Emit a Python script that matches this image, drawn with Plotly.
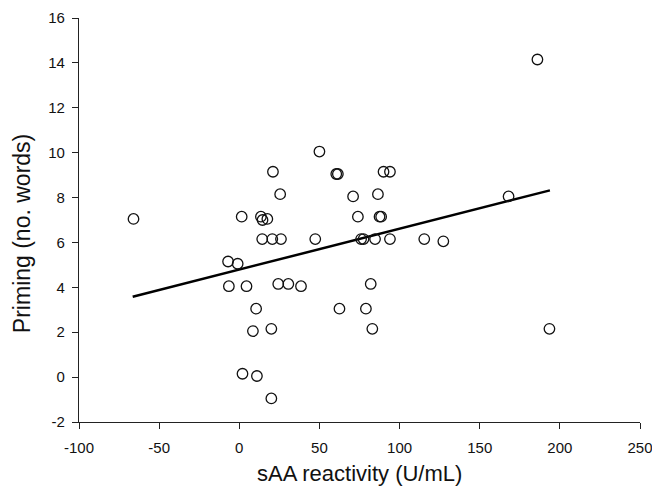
import plotly.graph_objects as go

saa = [-66, 1.5, 13.5, 14.5, 17.5, 21, 25.5, 50, 14.3, 20.6, 26, 47.4,
       186, 60.5, 61.5, 90, 94, 71, 86.5, 74, 87.5, 88.5, 168,
       76, 77.5, 84.7, 94, 115.4, 127.3,
       -7, -1, -6.5, 4.5, 24.3, 30.6, 38.5, 10.5, 8.5, 20, 2, 11, 20,
       82, 62.5, 79, 83, 193.5]
priming = [7.05, 7.15, 7.15, 7.0, 7.05, 9.15, 8.15, 10.05, 6.15, 6.15, 6.15, 6.15,
           14.15, 9.05, 9.05, 9.15, 9.15, 8.05, 8.15, 7.15, 7.15, 7.15, 8.05,
           6.15, 6.15, 6.15, 6.15, 6.15, 6.05,
           5.15, 5.05, 4.05, 4.05, 4.15, 4.15, 4.05, 3.05, 2.05, 2.15, 0.15, 0.05, -0.95,
           4.15, 3.05, 3.05, 2.15, 2.15]

fit_x = [-66.5, 193.8]
fit_y = [3.58, 8.32]

x_ticks = [-100, -50, 0, 50, 100, 150, 200, 250]
x_tick_labels = ["-100", "-50", "0", "50", "100", "150", "200", "250"]
y_ticks = [-2, 0, 2, 4, 6, 8, 10, 12, 14, 16]
y_tick_labels = ["-2", "0", "2", "4", "6", "8", "10", "12", "14", "16"]

FONT = "Liberation Sans, Arial"

fig = go.Figure()
fig.add_trace(go.Scatter(x=fit_x, y=fit_y, mode="lines",
                         line=dict(color="black", width=2.5), showlegend=False))
fig.add_trace(go.Scatter(x=saa, y=priming, mode="markers",
                         marker=dict(symbol="circle-open", size=10.5,
                                     color="#111111", line=dict(width=1.3)),
                         showlegend=False))

axis_common = dict(showline=True, linecolor="#222222", linewidth=1.3,
                   ticks="outside", ticklen=6, tickwidth=1.3, tickcolor="#222222",
                   showgrid=False, zeroline=False, ticklabeloverflow="allow",
                   automargin=False,
                   tickfont=dict(family=FONT, size=15, color="#111111"))

fig.update_layout(
    width=652, height=493,
    margin=dict(l=79, r=12, t=18, b=71, autoexpand=False),
    paper_bgcolor="white", plot_bgcolor="white",
    xaxis=dict(range=[-100, 250], tickvals=x_ticks, ticktext=x_tick_labels,
               ticklabelstandoff=6, **axis_common),
    yaxis=dict(range=[-2, 16], tickvals=y_ticks, ticktext=y_tick_labels,
               ticklabelstandoff=4, **axis_common),
    annotations=[
        dict(text="sAA reactivity (U/mL)", xref="paper", yref="paper",
             x=0.5, y=-0.127, xanchor="center", yanchor="middle", showarrow=False,
             font=dict(family=FONT, size=22, color="#111111")),
        dict(text="Priming (no. words)", xref="paper", yref="paper",
             x=-0.1016, y=0.465, xanchor="center", yanchor="middle", showarrow=False,
             textangle=-90, font=dict(family=FONT, size=23, color="#111111")),
    ],
)

fig.write_html("out.html")
